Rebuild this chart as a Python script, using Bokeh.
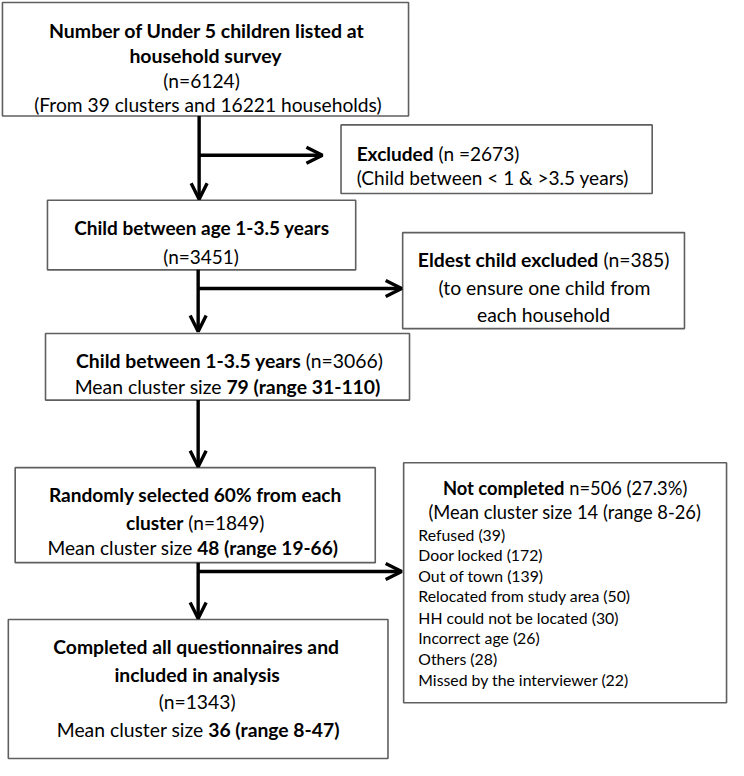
import os
import subprocess
from bokeh.plotting import figure
from bokeh.models import Range1d, Arrow, OpenHead, ColumnDataSource
from bokeh.core.properties import value
from bokeh.embed import file_html
from bokeh.resources import INLINE

# ---------------- data ----------------
n_listed = 6124
n_clusters = 39
n_households = 16221
n_excluded_age = 2673
n_age_1_35 = 3451
n_eldest_excluded = 385
n_after_eldest = 3066
mean_after_eldest = 79
range_after_eldest = [31, 110]
n_selected = 1849
pct_selected = 60
mean_selected = 48
range_selected = [19, 66]
n_completed = 1343
mean_completed = 36
range_completed = [8, 47]
n_not_completed = 506
pct_not_completed = 27.3
mean_not_completed = 14
range_not_completed = [8, 26]
reasons = ["Refused", "Door locked", "Out of town", "Relocated from study area",
           "HH could not be located", "Incorrect age", "Others",
           "Missed by the interviewer"]
reason_counts = [39, 172, 139, 50, 30, 26, 28, 22]

# ---------------- layout (reference pixel frame 744 x 776) ----------------
W, H = 744, 776
FW, FH = 728, 760
S = FW / W
FONT = "Lato"

boxes = dict(
    left=[2, 348, 48, 411, 46, 15, 412, 8],
    right=[417, 666, 363, 699, 418, 383, 742, 396],
    top=[2, 127, 204, 237, 340, 477, 472, 632],
    bottom=[118, 197, 275, 335, 408, 574, 717, 774],
)

arrows = dict(
    x0=[203, 203, 202, 202, 202, 202, 202],
    y0=[118, 158, 275, 294, 408, 574, 583],
    x1=[203, 329, 202, 410, 202, 202, 410],
    y1=[203, 158, 338, 294, 476, 631, 583],
)


# ---------------- text measuring (to fit the reference line widths) ----------------
def find_font(bold):
    want = "Lato-Bold.ttf" if bold else "Lato-Regular.ttf"
    try:
        pat = "Lato:bold" if bold else "Lato:regular"
        f = subprocess.run(["fc-match", "-f", "%{file}", pat], capture_output=True,
                           text=True, timeout=5).stdout.strip()
        if f and "lato" in os.path.basename(f).lower() and os.path.exists(f):
            return f
    except Exception:
        pass
    for root in ["/usr/share/fonts", "/usr/local/share/fonts",
                 os.path.expanduser("~/.fonts"), os.path.expanduser("~/.local/share/fonts")]:
        for dp, dn, fn in os.walk(root):
            for n in fn:
                if n == want:
                    return os.path.join(dp, n)
    return None


fonts = {}
try:
    from PIL import ImageFont
    for b in (False, True):
        path = find_font(b)
        if path:
            fonts[b] = ImageFont.truetype(path, 100)
except Exception:
    fonts = {}


def w100(s, bold):
    if bold in fonts:
        return fonts[bold].getlength(s)
    return len(s) * (54 if bold else 50)


def seg_total(segs):
    return sum(w100(s, b) for s, b in segs)


# (group, segments, left, right, y-centre, align) in reference pixels
specs = []


def L(group, segs, x0, x1, yc, align="center"):
    specs.append((group, segs, x0, x1, yc, align))


# box 1
L("b1h", [("Number of Under 5 children listed at", True)], 49, 372, 23)
L("b1h", [("household survey", True)], 132, 287, 49)
L("b1r", [(f"(n={n_listed})", False)], 163, 248, 75)
L("b1r", [(f"(From {n_clusters} clusters and {n_households} households)", False)], 50, 374, 99)
# excluded
L("ex", [("Excluded", True), (f" (n ={n_excluded_age})", False)], 364, 529, 149, "left")
L("ex", [("(Child between < 1 & >3.5 years)", False)], 364, 644, 174, "left")
# box 2
L("b2", [("Child between age 1-3.5 years", True)], 73, 338, 225)
L("b2", [(f"(n={n_age_1_35})", False)], 167, 243, 254)
# eldest
L("el", [("Eldest child excluded", True), (f" (n={n_eldest_excluded})", False)], 427, 683, 257)
L("el", [("(to ensure one child from", False)], 447, 665, 286)
L("el", [("each household", False)], 487, 623, 313)
# box 3
L("b3", [("Child between 1-3.5 years", True), (f" (n={n_after_eldest})", False)], 76, 392, 360)
L("b3", [("Mean cluster size ", False),
         (f"{mean_after_eldest} (range {range_after_eldest[0]}-{range_after_eldest[1]})", True)],
  77, 387, 387)
# box 4
L("b4", [(f"Randomly selected {pct_selected}% from each", True)], 48, 350, 497)
L("b4", [("cluster", True), (f" (n={n_selected})", False)], 128, 270, 526)
L("b4", [("Mean cluster size ", False),
         (f"{mean_selected} (range {range_selected[0]}-{range_selected[1]})", True)],
  50, 343, 551)
# box 5
L("b5", [("Completed all questionnaires and", True)], 52, 348, 653)
L("b5", [("included in analysis", True)], 115, 287, 681)
L("b5", [(f"(n={n_completed})", False)], 163, 239, 709)
L("b5", [("Mean cluster size ", False),
         (f"{mean_completed} (range {range_completed[0]}-{range_completed[1]})", True)],
  57, 347, 737)
# box 6
L("b6", [("Not completed", True), (f" n={n_not_completed} ({pct_not_completed}%)", False)], 447, 707, 491)
L("b6", [(f"(Mean cluster size {mean_not_completed} (range {range_not_completed[0]}-{range_not_completed[1]})", False)],
  443, 710, 516)
list_items = [f"{r} ({c})" for r, c in zip(reasons, reason_counts)]
list_right = {3: 646, 4: 629, 7: 642}
list_y = [539, 560, 581, 602, 624, 645, 666, 687]
for i, (yy, s) in enumerate(zip(list_y, list_items)):
    L("list", [(s, False)], 427, list_right.get(i), yy, "left")

# group font size: mean of the per-line sizes that would match the reference widths
fit = {}
for g, segs, x0, x1, yc, al in specs:
    if x1 is not None:
        fit.setdefault(g, []).append(100 * (x1 - x0) * S / seg_total(segs))
gsize = {g: sum(v) / len(v) for g, v in fit.items()}

rows = []
for g, segs, x0, x1, yc, al in specs:
    size = gsize[g]
    k = size / (100 * S)           # reference px per measured unit
    width = seg_total(segs) * k
    cx = x0 if al == "left" else (x0 + x1) / 2 - width / 2
    yb = yc + 0.36 * size / S
    for s, b in segs:
        lead = len(s) - len(s.lstrip(" "))
        off = w100(" " * lead, b) * k if lead else 0
        rows.append((cx + off, yb, s.strip(" "), "bold" if b else "normal", size))
        cx += w100(s, b) * k

text_src = ColumnDataSource(dict(
    x=[r[0] for r in rows],
    y=[r[1] for r in rows],
    text=[r[2] for r in rows],
    style=[r[3] for r in rows],
    size=[f"{r[4]:.2f}px" for r in rows],
))

p = figure(width=FW, height=FH, x_range=Range1d(0, W), y_range=Range1d(H, 0),
           x_axis_type=None, y_axis_type=None, toolbar_location=None,
           output_backend="svg", min_border=0)
p.grid.visible = False
p.outline_line_color = None
p.background_fill_color = "white"
p.border_fill_color = "white"

p.quad(left="left", right="right", top="top", bottom="bottom",
       source=ColumnDataSource(boxes), fill_color="white",
       line_color="#5f5f5f", line_width=1.6)

p.add_layout(Arrow(end=OpenHead(size=16, line_width=3.4, line_color="black"),
                   x_start="x0", y_start="y0", x_end="x1", y_end="y1",
                   line_width=3.4, line_color="black",
                   source=ColumnDataSource(arrows)))

p.text(x="x", y="y", text="text", source=text_src,
       text_font=value(FONT), text_font_style="style",
       text_align="left", text_baseline="alphabetic",
       text_font_size="size", text_color="black")

open("out.html", "w").write(file_html(p, INLINE))
